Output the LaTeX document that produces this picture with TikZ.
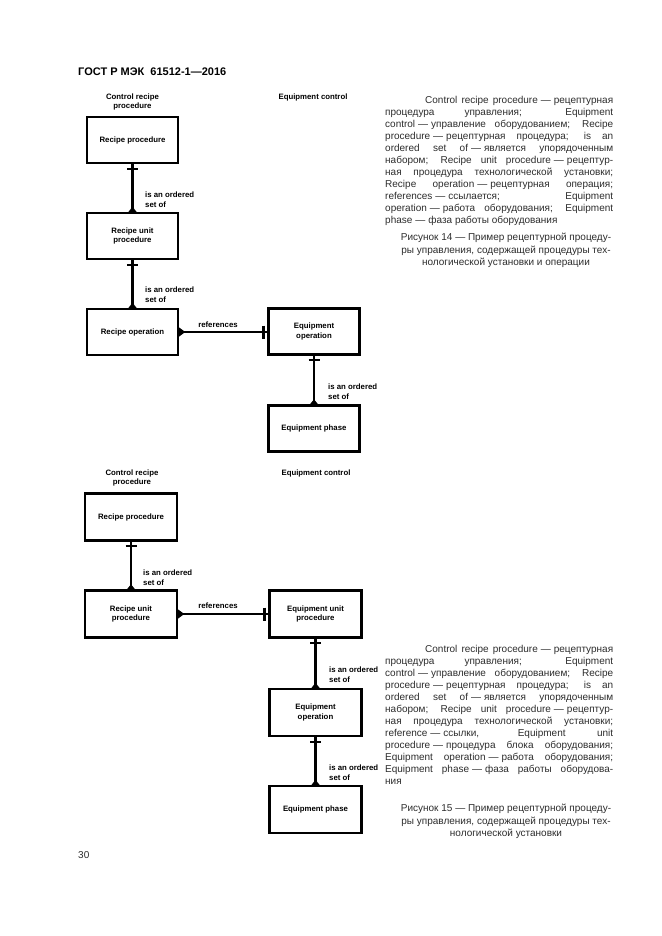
\documentclass[tikz,border=0pt]{standalone}
\usepackage{fontspec}
\setmainfont{Liberation Sans}
\definecolor{txt}{RGB}{45,45,45}
\newcommand\dfont{\fontsize{7.8}{9.6}\selectfont\bfseries}
\newcommand\bodyfont{\fontsize{10}{12}\selectfont}
\newcommand\dsh{\hspace{.3em}—\hspace{.3em}\ignorespaces}
\begin{document}
\begin{tikzpicture}[x=1pt,y=-1pt,
  ebox/.style={draw, line width=2.4pt, minimum width=91pt, minimum height=46pt, inner sep=0pt, align=center, font=\dfont},
  conn/.style={line width=2.2pt},
  onebar/.style={line width=1.8pt},
  lbl/.style={inner sep=0pt, align=left, font=\dfont},
  hdr/.style={inner sep=0pt, align=center, font=\dfont},
  body/.style={inner sep=0pt, text width=228pt, align=justify, font=\bodyfont, text=txt},
  capt/.style={inner sep=0pt, align=center, font=\fontsize{10}{12.4}\selectfont, text=txt}]
\useasboundingbox (0,0) rectangle (661,936);
\fill[white] (0,0) rectangle (661,936);

% title and page number
\node[inner sep=0pt, anchor=west, font=\fontsize{11}{13}\selectfont\bfseries] (title) at (78,72) {ГОСТ Р МЭК\ \ 61512-1—2016};
\node[inner sep=0pt, anchor=west, font=\fontsize{10}{12}\selectfont, text=txt] (page) at (78,855) {30};

% ---------- Figure 14 ----------
\node[hdr] (h1) at (132.5,102) {Control recipe\\procedure};
\node[hdr] (h2) at (313,97) {Equipment control};

\node[ebox] (rp) at (132.5,140) {Recipe procedure};
\node[ebox] (rup) at (132.5,236) {Recipe unit\\procedure};
\node[ebox] (ro) at (132.5,332) {Recipe operation};
\node[ebox] (eo) at (314,331.5) {Equipment\\operation};
\node[ebox] (ep) at (314,428.5) {Equipment phase};

\draw[conn] (rp.south) -- (rup.north);
\draw[onebar] ([yshift=-4.5pt]rp.south) +(-5.5,0) -- +(5.5,0);
\fill ([xshift=-4pt]rup.north) -- ([yshift=5pt]rup.north) -- ([xshift=4pt]rup.north) -- cycle;
\node[lbl, anchor=west] (l1) at (145,200) {is an ordered\\set of};

\draw[conn] (rup.south) -- (ro.north);
\draw[onebar] ([yshift=-4.5pt]rup.south) +(-5.5,0) -- +(5.5,0);
\fill ([xshift=-4pt]ro.north) -- ([yshift=5pt]ro.north) -- ([xshift=4pt]ro.north) -- cycle;
\node[lbl, anchor=west] (l2) at (145,295) {is an ordered\\set of};

\draw[conn] (ro.east) -- (eo.west |- ro.east);
\fill ([yshift=4.5pt]ro.east) -- ([xshift=6pt]ro.east) -- ([yshift=-4.5pt]ro.east) -- cycle;
\draw[line width=2.6pt] ([xshift=-4pt]eo.west |- ro.east) +(0,-6.5) -- +(0,6.5);
\node[hdr] (r1) at (218,325) {references};

\draw[conn] (eo.south) -- (ep.north);
\draw[onebar] ([yshift=-4.5pt]eo.south) +(-5.5,0) -- +(5.5,0);
\fill ([xshift=-4pt]ep.north) -- ([yshift=5pt]ep.north) -- ([xshift=4pt]ep.north) -- cycle;
\node[lbl, anchor=west] (l3) at (328,392) {is an ordered\\set of};

\node[body, anchor=north west] (t14) at (385,96) {\hspace*{40pt}Control recipe procedure\dsh рецептурная\linebreak
процедура управления; Equipment\linebreak
control\dsh управление оборудованием; Recipe\linebreak
procedure\dsh рецептурная процедура; is an\linebreak
ordered set of\dsh является упорядоченным\linebreak
набором; Recipe unit procedure\dsh рецептур-\linebreak
ная процедура технологической установки;\linebreak
Recipe operation\dsh рецептурная операция;\linebreak
references\dsh ссылается; Equipment\linebreak
operation\dsh работа оборудования; Equipment\linebreak
phase\dsh фаза работы оборудования};

\node[capt, anchor=north] (c14) at (506,233) {Рисунок 14 — Пример рецептурной процеду-\\ры управления, содержащей процедуры тех-\\нологической установки и операции};

% ---------- Figure 15 ----------
\node[hdr] (h3) at (132,478) {Control recipe\\procedure};
\node[hdr] (h4) at (316,473) {Equipment control};

\node[ebox, minimum width=92pt, minimum height=47pt] (rp2) at (131,517) {Recipe procedure};
\node[ebox, minimum width=92pt, minimum height=47pt] (rup2) at (131,614) {Recipe unit\\procedure};
\node[ebox, minimum width=92pt, minimum height=47pt] (eup) at (315.5,614) {Equipment unit\\procedure};
\node[ebox, minimum width=92pt, minimum height=47pt] (eo2) at (315.5,712.5) {Equipment\\operation};
\node[ebox, minimum width=92pt, minimum height=47pt] (ep2) at (315.5,809.5) {Equipment phase};

\draw[conn] (rp2.south) -- (rup2.north);
\draw[onebar] ([yshift=-4.5pt]rp2.south) +(-5.5,0) -- +(5.5,0);
\fill ([xshift=-4pt]rup2.north) -- ([yshift=5pt]rup2.north) -- ([xshift=4pt]rup2.north) -- cycle;
\node[lbl, anchor=west] (l4) at (143,578) {is an ordered\\set of};

\draw[conn] (rup2.east) -- (eup.west |- rup2.east);
\fill ([yshift=4.5pt]rup2.east) -- ([xshift=6pt]rup2.east) -- ([yshift=-4.5pt]rup2.east) -- cycle;
\draw[line width=2.6pt] ([xshift=-4pt]eup.west |- rup2.east) +(0,-6.5) -- +(0,6.5);
\node[hdr] (r2) at (218,606) {references};

\draw[conn] (eup.south) -- (eo2.north);
\draw[onebar] ([yshift=-4.5pt]eup.south) +(-5.5,0) -- +(5.5,0);
\fill ([xshift=-4pt]eo2.north) -- ([yshift=5pt]eo2.north) -- ([xshift=4pt]eo2.north) -- cycle;
\node[lbl, anchor=west] (l5) at (329,675) {is an ordered\\set of};

\draw[conn] (eo2.south) -- (ep2.north);
\draw[onebar] ([yshift=-4.5pt]eo2.south) +(-5.5,0) -- +(5.5,0);
\fill ([xshift=-4pt]ep2.north) -- ([yshift=5pt]ep2.north) -- ([xshift=4pt]ep2.north) -- cycle;
\node[lbl, anchor=west] (l6) at (329,773) {is an ordered\\set of};

\node[body, anchor=north west] (t15) at (385,645) {\hspace*{40pt}Control recipe procedure\dsh рецептурная\linebreak
процедура управления; Equipment\linebreak
control\dsh управление оборудованием; Recipe\linebreak
procedure\dsh рецептурная процедура; is an\linebreak
ordered set of\dsh является упорядоченным\linebreak
набором; Recipe unit procedure\dsh рецептур-\linebreak
ная процедура технологической установки;\linebreak
reference\dsh ссылки, Equipment unit\linebreak
procedure\dsh процедура блока оборудования;\linebreak
Equipment operation\dsh работа оборудования;\linebreak
Equipment phase\dsh фаза работы оборудова-\linebreak
ния};

\node[capt, anchor=north] (c15) at (506,804) {Рисунок 15 — Пример рецептурной процеду-\\ры управления, содержащей процедуры тех-\\нологической установки};
\end{tikzpicture}
\end{document}
